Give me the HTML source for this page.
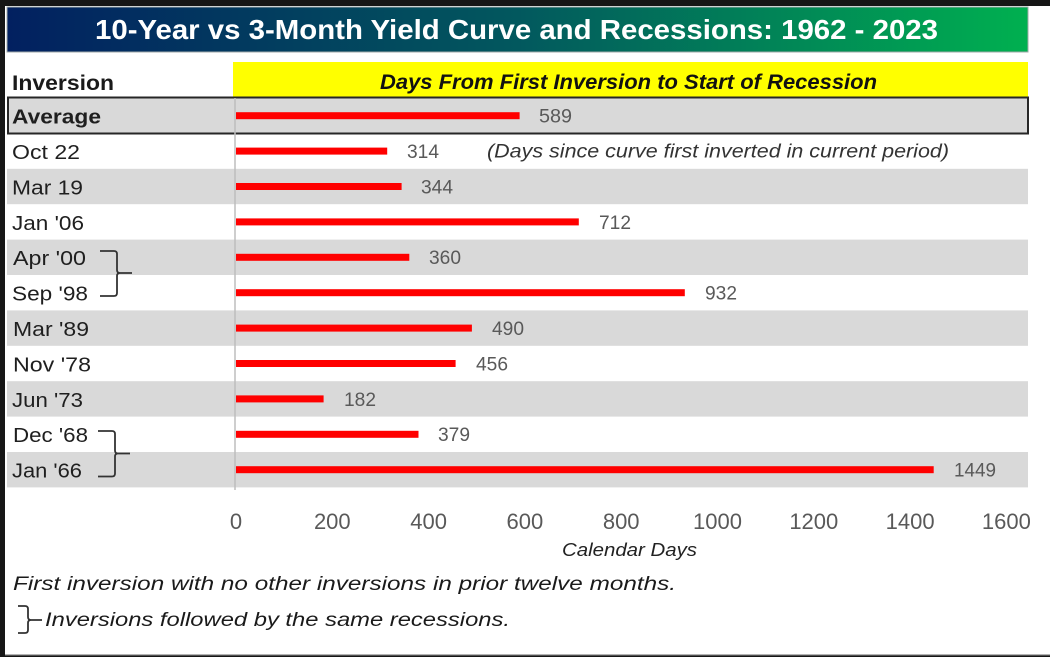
<!DOCTYPE html>
<html>
<head>
<meta charset="utf-8">
<style>
html,body{margin:0;padding:0;background:#161616;}
svg{display:block;}
text{font-family:"Liberation Sans",Arial,sans-serif;}
</style>
</head>
<body>
<svg width="1050" height="657" viewBox="0 0 1050 657" xmlns="http://www.w3.org/2000/svg">
<defs>
<linearGradient id="tg" x1="0" y1="0" x2="1" y2="0">
<stop offset="0" stop-color="#022060"/>
<stop offset="0.5" stop-color="#02585e"/>
<stop offset="1" stop-color="#00b050"/>
</linearGradient>
</defs>
<rect x="0" y="0" width="1050" height="657" fill="#161616"/>
<rect x="5" y="6" width="1045" height="649" fill="#ffffff"/>
<rect x="5" y="654.5" width="1045" height="1.2" fill="#6a6a6a"/>

<!-- Title bar -->
<rect x="7" y="7" width="1021" height="45" fill="url(#tg)" stroke="#a0a8a8" stroke-width="1"/>
<text x="95" y="39" font-size="28" font-weight="bold" fill="#ffffff" textLength="843" lengthAdjust="spacingAndGlyphs">10-Year vs 3-Month Yield Curve and Recessions: 1962 - 2023</text>

<!-- Header -->
<rect x="233" y="62" width="795" height="35" fill="#ffff00"/>
<text x="380" y="89" font-size="21" font-weight="bold" font-style="italic" fill="#111" textLength="497" lengthAdjust="spacingAndGlyphs">Days From First Inversion to Start of Recession</text>
<text x="12" y="90" font-size="21" font-weight="bold" fill="#1a1a1a" textLength="102" lengthAdjust="spacingAndGlyphs">Inversion</text>

<!-- Row backgrounds -->
<rect x="7" y="98" width="1021" height="35.4" fill="#d9d9d9"/>
<rect x="7" y="168.8" width="1021" height="35.4" fill="#d9d9d9"/>
<rect x="7" y="239.6" width="1021" height="35.4" fill="#d9d9d9"/>
<rect x="7" y="310.4" width="1021" height="35.4" fill="#d9d9d9"/>
<rect x="7" y="381.2" width="1021" height="35.4" fill="#d9d9d9"/>
<rect x="7" y="452" width="1021" height="35.4" fill="#d9d9d9"/>

<!-- Average box border -->
<rect x="8" y="97.5" width="1020" height="36" fill="none" stroke="#262626" stroke-width="2"/>

<!-- Axis line -->
<line x1="235" y1="98" x2="235" y2="490" stroke="#bdbdbd" stroke-width="1.5"/>

<!-- Bars -->
<g fill="#ff0000">
<rect x="236" y="112.2" width="283.6" height="7"/>
<rect x="236" y="147.6" width="151.2" height="7"/>
<rect x="236" y="183" width="165.6" height="7"/>
<rect x="236" y="218.4" width="342.8" height="7"/>
<rect x="236" y="253.8" width="173.3" height="7"/>
<rect x="236" y="289.2" width="448.8" height="7"/>
<rect x="236" y="324.6" width="235.9" height="7"/>
<rect x="236" y="360" width="219.6" height="7"/>
<rect x="236" y="395.4" width="87.6" height="7"/>
<rect x="236" y="430.8" width="182.5" height="7"/>
<rect x="236" y="466.2" width="697.7" height="7"/>
</g>

<!-- Value labels -->
<g font-size="19" fill="#595959">
<text x="539" y="122.5" textLength="33" lengthAdjust="spacingAndGlyphs">589</text>
<text x="407" y="158" textLength="32" lengthAdjust="spacingAndGlyphs">314</text>
<text x="421" y="193.4" textLength="32" lengthAdjust="spacingAndGlyphs">344</text>
<text x="599" y="228.8" textLength="32" lengthAdjust="spacingAndGlyphs">712</text>
<text x="429" y="264.2" textLength="32" lengthAdjust="spacingAndGlyphs">360</text>
<text x="705" y="299.6" textLength="32" lengthAdjust="spacingAndGlyphs">932</text>
<text x="492" y="335" textLength="32" lengthAdjust="spacingAndGlyphs">490</text>
<text x="476" y="370.4" textLength="32" lengthAdjust="spacingAndGlyphs">456</text>
<text x="344" y="405.8" textLength="32" lengthAdjust="spacingAndGlyphs">182</text>
<text x="438" y="441.2" textLength="32" lengthAdjust="spacingAndGlyphs">379</text>
<text x="954" y="476.6" textLength="42" lengthAdjust="spacingAndGlyphs">1449</text>
</g>

<text x="487" y="157.5" font-size="19" font-style="italic" fill="#333333" textLength="462" lengthAdjust="spacingAndGlyphs">(Days since curve first inverted in current period)</text>

<!-- Row labels -->
<g font-size="20" fill="#1f1f1f">
<text x="12" y="123.5" font-weight="bold" textLength="89" lengthAdjust="spacingAndGlyphs">Average</text>
<text x="12" y="159" textLength="68" lengthAdjust="spacingAndGlyphs">Oct 22</text>
<text x="12" y="194.4" textLength="71" lengthAdjust="spacingAndGlyphs">Mar 19</text>
<text x="12" y="229.8" textLength="72" lengthAdjust="spacingAndGlyphs">Jan '06</text>
<text x="13" y="265.2" textLength="73" lengthAdjust="spacingAndGlyphs">Apr '00</text>
<text x="12" y="300.6" textLength="76" lengthAdjust="spacingAndGlyphs">Sep '98</text>
<text x="13" y="336" textLength="76" lengthAdjust="spacingAndGlyphs">Mar '89</text>
<text x="13" y="371.4" textLength="78" lengthAdjust="spacingAndGlyphs">Nov '78</text>
<text x="12" y="406.8" textLength="71" lengthAdjust="spacingAndGlyphs">Jun '73</text>
<text x="13" y="442.2" textLength="75" lengthAdjust="spacingAndGlyphs">Dec '68</text>
<text x="12" y="477.6" textLength="70" lengthAdjust="spacingAndGlyphs">Jan '66</text>
</g>

<!-- Brackets -->
<g fill="none" stroke="#333333" stroke-width="1.8">
<path d="M100 251 H114 Q117 251 117 254 V270 Q117 273 120 273 H132 M120 273 Q117 273 117 276 V293 Q117 296 114 296 H100"/>
<path d="M98 431 H112 Q115 431 115 434 V450.5 Q115 453.5 118 453.5 H130 M118 453.5 Q115 453.5 115 456.5 V473.5 Q115 476.5 112 476.5 H98"/>
<path d="M18 606 H25 Q28 606 28 609 V617 Q28 620 31 620 H42 M31 620 Q28 620 28 623 V630 Q28 633 25 633 H18"/>
</g>

<!-- Tick labels -->
<g font-size="22" fill="#595959" text-anchor="middle">
<text x="236" y="529">0</text>
<text x="332.3" y="529">200</text>
<text x="428.6" y="529">400</text>
<text x="524.9" y="529">600</text>
<text x="621.2" y="529">800</text>
<text x="717.5" y="529">1000</text>
<text x="813.8" y="529">1200</text>
<text x="910.1" y="529">1400</text>
<text x="1006.4" y="529">1600</text>
</g>

<text x="562" y="556" font-size="18" font-style="italic" fill="#222" textLength="135" lengthAdjust="spacingAndGlyphs">Calendar Days</text>

<!-- Footnotes -->
<text x="13" y="590" font-size="19" font-style="italic" fill="#1a1a1a" textLength="663" lengthAdjust="spacingAndGlyphs">First inversion with no other inversions in prior twelve months.</text>
<text x="45" y="626" font-size="19" font-style="italic" fill="#1a1a1a" textLength="465" lengthAdjust="spacingAndGlyphs">Inversions followed by the same recessions.</text>
</svg>
</body>
</html>
